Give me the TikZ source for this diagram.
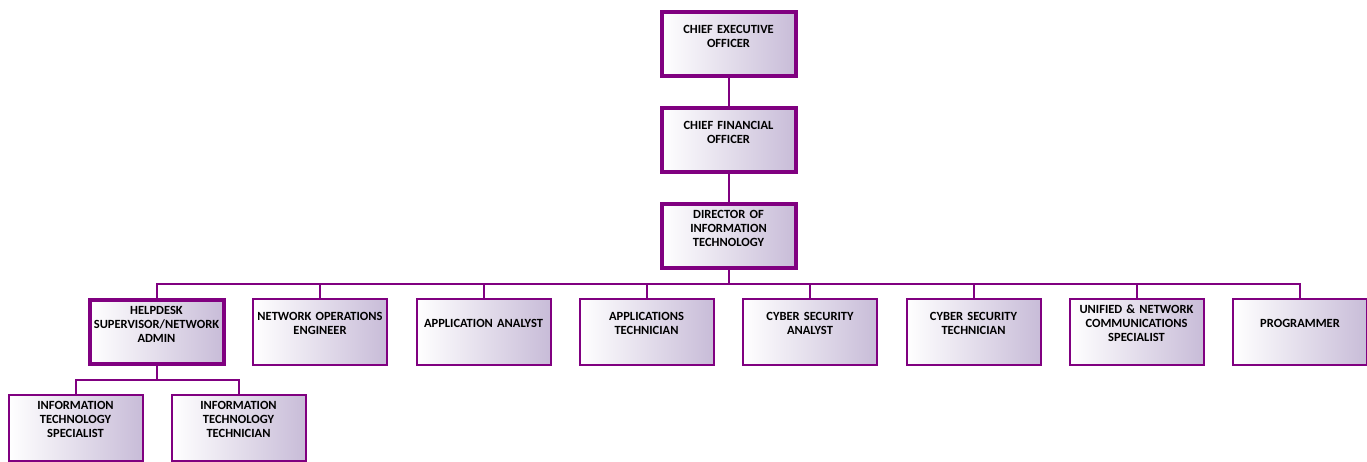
\documentclass[tikz,border=0pt]{standalone}
\usepackage{fontspec}
\setmainfont{Carlito}
\definecolor{org}{RGB}{128,0,128}
\definecolor{lav}{RGB}{200,188,216}
\begin{document}
\begin{tikzpicture}[x=1pt,y=-1pt,
  boxbase/.style={draw=org,rectangle,left color=white,right color=lav,minimum width=134pt,inner sep=0pt,outer sep=0pt},
  thickbox/.style={boxbase,line width=4pt,minimum height=64pt},
  thinbox/.style={boxbase,line width=2pt,minimum width=134pt,minimum height=66pt},
  lbl/.style={text width=134pt,align=center,font=\fontsize{12.5}{14}\selectfont\bfseries,inner sep=0pt},
  conn/.style={draw=org,line width=2pt}]
\useasboundingbox (0,0) rectangle (1367,461);
\newcommand{\boxat}[5]{%
  \node[#1] (#2) at (#3,#4) {};
  \node[lbl] (#2t) at ([yshift=-24pt]#2.north) {#5};}
\boxat{thickbox}{ceo}{728.5}{44}{CHIEF EXECUTIVE\\OFFICER}
\boxat{thickbox}{cfo}{728.5}{140}{CHIEF FINANCIAL\\OFFICER}
\boxat{thickbox}{dir}{728.5}{236}{DIRECTOR OF\\INFORMATION\\TECHNOLOGY}
\boxat{thickbox}{help}{156.5}{332}{HELPDESK\\SUPERVISOR/NETWORK\\ADMIN}
\boxat{thinbox}{neteng}{320}{332}{NETWORK OPERATIONS\\ENGINEER}
\boxat{thinbox}{appan}{483.5}{332}{APPLICATION ANALYST}
\boxat{thinbox}{apptech}{646.5}{332}{APPLICATIONS\\TECHNICIAN}
\boxat{thinbox}{cyban}{810}{332}{CYBER SECURITY\\ANALYST}
\boxat{thinbox}{cybtech}{973.5}{332}{CYBER SECURITY\\TECHNICIAN}
\boxat{thinbox}{unified}{1136.5}{332}{UNIFIED \& NETWORK\\COMMUNICATIONS\\SPECIALIST}
\boxat{thinbox}{prog}{1300}{332}{PROGRAMMER}
\boxat{thinbox}{itspec}{75.5}{428}{INFORMATION\\TECHNOLOGY\\SPECIALIST}
\boxat{thinbox}{ittech}{238.5}{428}{INFORMATION\\TECHNOLOGY\\TECHNICIAN}
\coordinate (bus) at (728.5,284);
\coordinate (bus2) at (156.5,380);
\draw[conn] (ceo.south) -- (cfo.north);
\draw[conn] (cfo.south) -- (dir.north);
\foreach \c in {help,neteng,appan,apptech,cyban,cybtech,unified,prog}
  \draw[conn] (dir.south) -- (bus) -| (\c.north);
\foreach \c in {itspec,ittech}
  \draw[conn] (help.south) -- (bus2) -| (\c.north);
\end{tikzpicture}
\end{document}
